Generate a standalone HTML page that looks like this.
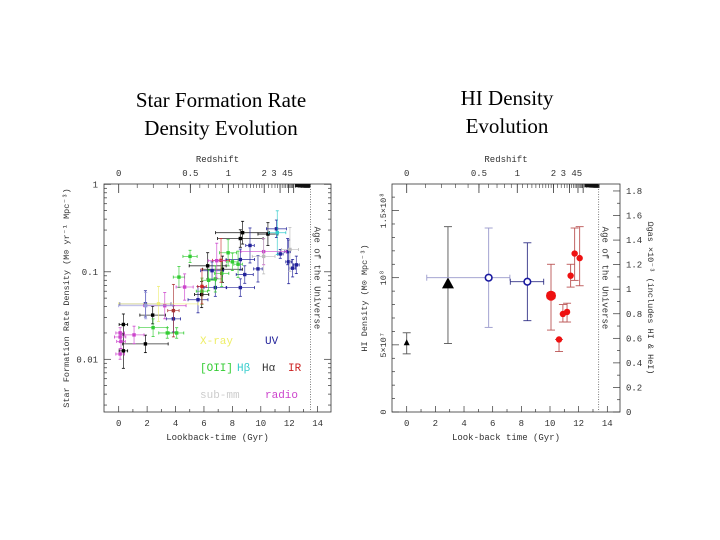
<!DOCTYPE html>
<html><head><meta charset="utf-8">
<style>
html,body{margin:0;padding:0;background:#fff;}
body{width:720px;height:540px;position:relative;overflow:hidden;font-family:"Liberation Serif",serif;}
.title{position:absolute;font-size:21px;text-align:center;line-height:28px;color:#000;}
svg text{font-family:"Liberation Mono",monospace;}
</style></head>
<body>
<div class="title" style="left:96px;top:86px;width:250px;">Star Formation Rate<br>Density Evolution</div>
<div class="title" style="left:407px;top:84px;width:200px;">HI Density<br>Evolution</div>
<svg id="chart" width="720" height="540" style="position:absolute;left:0;top:0"></svg>
<script>
// ---- SFR panel data ----
const sfrTime = [0.33,0.33,1.88,2.39,6.26,7.3,8.56,8.72,10.5,5.84, 1.88,3.85,5.58,6.57,6.8,8.56,8.56,9.24,8.87,9.8,11.1,11.37,11.89,11.96,12.24,12.5, 2.42,3.42,4.08,4.24,5.02,5.86,6.33,6.8,7.25,7.7,8.0,8.4, 11.16, 5.86,3.85,7.2, 0.1,0.1,0.1,1.08,3.24,4.64,6.9,10.2,0.16, 10.2,12.05, 2.8,1.9];
const sfrValue = [0.025,0.0125,0.015,0.032,0.117,0.107,0.24,0.28,0.27,0.055, 0.043,0.029,0.048,0.103,0.066,0.138,0.066,0.2,0.093,0.108,0.31,0.16,0.17,0.13,0.11,0.12, 0.023,0.02,0.02,0.087,0.15,0.06,0.08,0.083,0.096,0.165,0.13,0.122, 0.28, 0.068,0.036,0.135, 0.02,0.018,0.0115,0.019,0.041,0.067,0.134,0.17,0.016, 0.15,0.18, 0.043,0.041];
const sfrXerr = [0.3,0.3,1.6,0.9,1.3,1.4,1.6,1.9,0.7,0.5, 1.8,0.5,0.7,0.8,0.8,1.0,1.0,0.3,0.6,0.3,0.7,0.2,0.2,0.2,0.2,0.2, 1.0,0.6,0.5,0.4,0.5,0.4,0.5,0.5,0.5,0.6,0.4,0.3, 0.6, 0.3,0.4,0.6, 0.3,0.4,0.3,0.7,1.5,0.6,0.6,1.6,0.3, 0.8,0.6, 2.8,1.9];
const sfrYerr = [0.12,0.2,0.1,0.1,0.15,0.15,0.1,0.13,0.13,0.15, 0.15,0.15,0.15,0.1,0.1,0.12,0.1,0.2,0.1,0.15,0.1,0.05,0.15,0.25,0.1,0.1, 0.1,0.06,0.06,0.12,0.07,0.15,0.12,0.15,0.15,0.15,0.1,0.15, 0.25, 0.2,0.3,0.25, 0.06,0.06,0.06,0.1,0.15,0.15,0.2,0.15,0.08, 0.2,0.25, 0.2,0.15];
const sfrColor = ["#000","#000","#000","#000","#000","#000","#000","#000","#000","#000",
 "#22229a","#22229a","#22229a","#22229a","#22229a","#22229a","#22229a","#22229a","#22229a","#22229a","#22229a","#22229a","#22229a","#22229a","#22229a","#22229a",
 "#33cc33","#33cc33","#33cc33","#33cc33","#33cc33","#33cc33","#33cc33","#33cc33","#33cc33","#33cc33","#33cc33","#33cc33",
 "#33cccc","#cc2222","#aa3333","#cc3333",
 "#cc44cc","#cc44cc","#cc44cc","#cc44cc","#cc44cc","#cc44cc","#cc44cc","#cc44cc","#cc44cc",
 "#bbbbbb","#bbbbbb","#eeee77","#9999dd"];
// ---- HI panel data ----
const hiTime = [0,2.88,5.72,8.42,10.07,10.63,10.9,11.19,11.44,11.72,12.07];
const hiValue = [0.512,0.95,1.0,0.97,0.866,0.54,0.73,0.745,1.015,1.18,1.146]; // x1e8
const hiLow = [0.433,0.51,0.63,0.68,0.61,0.45,0.67,0.67,0.93,0.98,0.94];
const hiHigh = [0.59,1.38,1.37,1.26,1.10,0.54,0.80,0.81,1.10,1.37,1.38];
const hiXlo = [0,0,1.4,7.23,9.8,0,0,0,0,0,0];
const hiXhi = [0,0,7.2,9.56,10.35,0,0,0,0,0,0];
const hiKind = ["tri","bigtri","open1","open2","bigred","red","red","red","red","red","red"];
const zMajor = [0,0.5,1,2,3,4,5];
const zLabels = ["0","0.5","1","2","3","4","5"];

const NS="http://www.w3.org/2000/svg";
const svg=document.getElementById('chart');
function mk(tag,attrs,parent){const e=document.createElementNS(NS,tag);for(const k in attrs)e.setAttribute(k,attrs[k]);(parent||svg).appendChild(e);return e;}
function lookback(z){let s=0,n=400;for(let i=0;i<n;i++){const zz=(i+0.5)*z/n;s+=1/((1+zz)*Math.sqrt(0.3*Math.pow(1+zz,3)+0.7));}return 13.97*s*z/n;}

function frame(g,L,R,T,B,xs,ageX){
  mk('rect',{x:L,y:T,width:R-L,height:B-T,fill:'none',stroke:'#333','stroke-width':0.8},g);
  for(let t=0;t<=14;t++){const x=xs(t);const len=t%2==0?6:3;
    mk('line',{x1:x,x2:x,y1:B,y2:B-len,stroke:'#333','stroke-width':0.7},g);
    if(t%2==0){const tx=mk('text',{x:x,y:B+14,'font-size':9,'text-anchor':'middle',fill:'#333'},g);tx.textContent=t;}}
  // redshift ticks
  const zs=[];for(let z=0.1;z<2;z+=0.1)zs.push(z);for(let z=2;z<5;z+=0.2)zs.push(z);for(let z=5;z<60;z+=0.5)zs.push(z);
  zs.forEach(z=>{const x=xs(lookback(z));if(x<R)mk('line',{x1:x,x2:x,y1:T,y2:T+4,stroke:'#333','stroke-width':0.6},g);});
  zMajor.forEach((z,i)=>{const x=xs(lookback(z));mk('line',{x1:x,x2:x,y1:T,y2:T+9,stroke:'#333','stroke-width':0.8},g);
    if(i<4||i==4){const tx=mk('text',{x:x+(i==4?2:0),y:T-8,'font-size':9,'text-anchor':'middle',fill:'#333'},g);tx.textContent=i==4?'3 45':zLabels[i];}});
  mk('rect',{x:xs(12.4),y:T,width:ageX-xs(12.4),height:3,fill:'#111'},g);
  const rt=mk('text',{x:(L+R)/2,y:T-22,'font-size':9,'text-anchor':'middle',fill:'#333'},g);rt.textContent='Redshift';
  mk('line',{x1:ageX,x2:ageX,y1:T,y2:B,stroke:'#444','stroke-width':0.7,'stroke-dasharray':'1,1.5'},g);
  const at=mk('text',{x:ageX+4,y:(T+B)/2-20,'font-size':9,'text-anchor':'middle',fill:'#333',transform:`rotate(90 ${ageX+4} ${(T+B)/2-20})`},g);at.textContent='Age of the Universe';
  const xl=mk('text',{x:(L+R)/2,y:B+28,'font-size':9,'text-anchor':'middle',fill:'#333'},g);return xl;
}

// ===== SFR panel =====
(function(){
  const L=104,R=331,T=184,B=412;
  const xs=t=>118.7+t*14.21;
  const ys=v=>184.3-Math.log10(v)*87.5;
  const g=mk('g',{});
  
  
  const xl=frame(g,L,R,T,B,xs,xs(13.5));xl.textContent='Lookback-time (Gyr)';
  for(let d=0;d>=-3;d--){for(let m=1;m<10;m++){const v=m*Math.pow(10,d-1)*10;const y=ys(v/10*1);}}
  for(let d=-3;d<=0;d++){for(let m=1;m<10;m++){const v=m*Math.pow(10,d);const y=ys(v);if(y<T-0.5||y>B)continue;const len=m==1?7:3;
      mk('line',{x1:L,x2:L+len,y1:y,y2:y,stroke:'#333','stroke-width':0.7},g);mk('line',{x1:R,x2:R-len,y1:y,y2:y,stroke:'#333','stroke-width':0.7},g);}}
  [[1,'1'],[0.1,'0.1'],[0.01,'0.01']].forEach(([v,s])=>{const tx=mk('text',{x:L-6,y:ys(v)+3,'font-size':9,'text-anchor':'end',fill:'#333'},g);tx.textContent=s;});
  const yl=mk('text',{x:69,y:298,'font-size':8.5,'text-anchor':'middle',fill:'#333',transform:'rotate(-90 69 298)'},g);yl.textContent='Star Formation Rate Density (M\u2299 yr\u207B\u00B9 Mpc\u207B\u00B3)';
  sfrTime.forEach((t,i)=>{
    const x=xs(t),y=ys(sfrValue[i]),c=sfrColor[i];
    const p=mk('g',{},g);
    
    
    const x1=xs(t-sfrXerr[i]),x2=xs(t+sfrXerr[i]);
    const y1=ys(sfrValue[i]*Math.pow(10,sfrYerr[i])),y2=ys(sfrValue[i]/Math.pow(10,sfrYerr[i]));
    mk('line',{x1:x1,x2:x2,y1:y,y2:y,stroke:c,'stroke-width':0.8,opacity:0.8},p);
    mk('line',{x1:x,x2:x,y1:y1,y2:y2,stroke:c,'stroke-width':0.8,opacity:0.8},p);
    [x1,x2].forEach(xx=>mk('line',{x1:xx,x2:xx,y1:y-1.5,y2:y+1.5,stroke:c,'stroke-width':0.8},p));
    [y1,y2].forEach(yy=>mk('line',{x1:x-1.5,x2:x+1.5,y1:yy,y2:yy,stroke:c,'stroke-width':0.8},p));
    mk('rect',{x:x-1.7,y:y-1.7,width:3.4,height:3.4,fill:c},p);
  });
  const leg=[['X-ray','#eeee66',200,344],['UV','#22229a',265,344],['[OII]','#33cc33',200,371],['H\u03B2','#33cccc',237,371],['H\u03B1','#333',262,371],['IR','#cc2222',288,371],['sub-mm','#cccccc',200,398],['radio','#cc44cc',265,398]];
  leg.forEach(([s,c,x,y])=>{const tx=mk('text',{x:x,y:y,'font-size':11,fill:c},g);
    
    
    tx.textContent=s;});
})();

// ===== HI panel =====
(function(){
  const L=392,R=620,T=184,B=412;
  const xs=t=>406.7+t*14.33;
  const ys=v=>412-v*134.3;
  const g=mk('g',{});
  
  
  const xl=frame(g,L,R,T,B,xs,598.7);xl.textContent='Look-back time (Gyr)';
  for(let k=0;k<=16;k++){const y=ys(k*0.1);if(y<T)continue;const len=k%5==0?7:3;
    mk('line',{x1:L,x2:L+len,y1:y,y2:y,stroke:'#333','stroke-width':0.7},g);}
  [[0,'0'],[0.5,'5\u00D710\u2077'],[1,'10\u2078'],[1.5,'1.5\u00D710\u2078']].forEach(([v,s])=>{const y=ys(v);
    const tx=mk('text',{x:L-6,y:y,'font-size':8.5,'text-anchor':'middle',fill:'#333',transform:`rotate(-90 ${L-6} ${y})`},g);tx.textContent=s;});
  for(let k=0;k<=18;k++){const y=412-k*12.28;if(y<T)continue;const len=k%2==0?7:3;
    mk('line',{x1:R,x2:R-len,y1:y,y2:y,stroke:'#333','stroke-width':0.7},g);
    if(k%2==0){const tx=mk('text',{x:R+6,y:y+3,'font-size':9,fill:'#333'},g);tx.textContent=k==0?'0':(k/10).toFixed(1).replace('.0','');}}
  const yl=mk('text',{x:367,y:298,'font-size':8.5,'text-anchor':'middle',fill:'#333',transform:'rotate(-90 367 298)'},g);yl.textContent='HI Density (M\u2299 Mpc\u207B\u00B3)';
  const yr=mk('text',{x:648,y:298,'font-size':8.5,'text-anchor':'middle',fill:'#333',transform:'rotate(90 648 298)'},g);yr.textContent='\u03A9gas \u00D710\u207B\u00B3 (includes HI & HeI)';
  hiTime.forEach((t,i)=>{
    const x=xs(t),y=ys(hiValue[i]),k=hiKind[i];
    const ec=k.indexOf('tri')>=0?'#555':(k=='open1'?'#9999cc':(k=='open2'?'#333388':'#bb5555'));
    const p=mk('g',{},g);
    
    
    const y1=ys(hiHigh[i]),y2=ys(hiLow[i]);
    mk('line',{x1:x,x2:x,y1:y1,y2:y2,stroke:ec,'stroke-width':0.9},p);
    [y1,y2].forEach(yy=>mk('line',{x1:x-4,x2:x+4,y1:yy,y2:yy,stroke:ec,'stroke-width':0.9},p));
    if(hiXhi[i]>0){const a=xs(hiXlo[i]),b=xs(hiXhi[i]);mk('line',{x1:a,x2:b,y1:y,y2:y,stroke:ec,'stroke-width':0.9},p);
      [a,b].forEach(xx=>mk('line',{x1:xx,x2:xx,y1:y-3,y2:y+3,stroke:ec,'stroke-width':0.9},p));}
    if(k=='tri')mk('polygon',{points:`${x},${y-4} ${x-3},${y+2} ${x+3},${y+2}`,fill:'#000'},p);
    else if(k=='bigtri')mk('polygon',{points:`${x},${y-7} ${x-6},${y+4} ${x+6},${y+4}`,fill:'#000'},p);
    else if(k=='open1'||k=='open2')mk('circle',{cx:x,cy:y,r:3.3,fill:'#fff',stroke:'#1a1aa0','stroke-width':1.6},p);
    else mk('circle',{cx:x,cy:y,r:k=='bigred'?5:3.2,fill:'#ee1111'},p);
  });
})();
</script>
</body></html>
